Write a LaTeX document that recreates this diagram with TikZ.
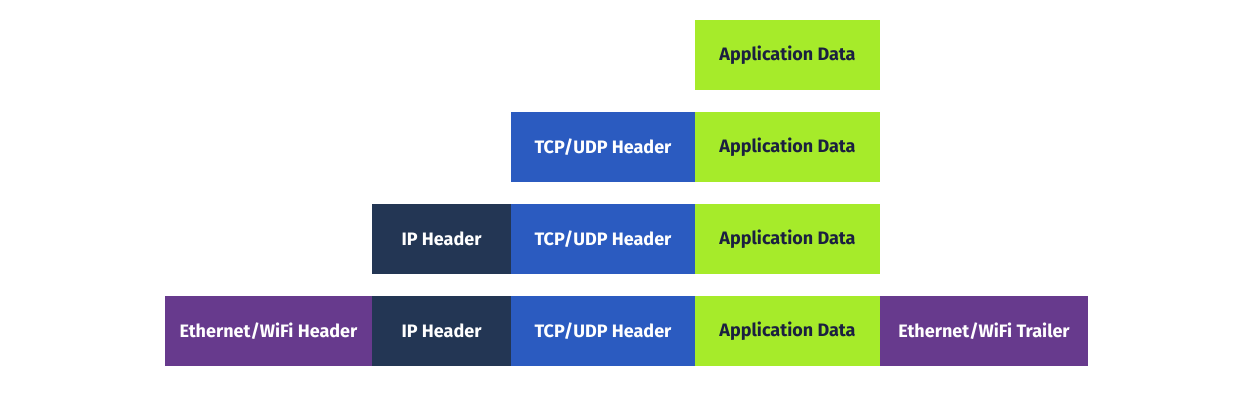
\documentclass[tikz,border=0pt]{standalone}
\usepackage{fontspec}
\setmainfont{Fira Sans}
\usetikzlibrary{positioning}
\definecolor{appgreen}{RGB}{166,235,42}
\definecolor{tcpblue}{RGB}{43,91,192}
\definecolor{ipnavy}{RGB}{35,54,84}
\definecolor{ethpurple}{RGB}{103,58,141}
\definecolor{inkdark}{RGB}{27,32,64}
\begin{document}
\begin{tikzpicture}[x=1pt,y=-1pt,node distance=0pt,
   every node/.style={inner sep=0pt,outer sep=0pt,minimum height=70pt,
     font=\fontsize{18}{21}\selectfont\bfseries},
   app/.style={fill=appgreen,text=inkdark,minimum width=185pt},
   tcp/.style={fill=tcpblue,text=white,minimum width=184pt},
   ip/.style={fill=ipnavy,text=white,minimum width=139pt},
   eth/.style={fill=ethpurple,text=white,minimum width=207pt},
   trl/.style={fill=ethpurple,text=white,minimum width=208pt}]
  \useasboundingbox (0,0) rectangle (1249,396);
  % application layer
  \node[app] (app1) at (787.5,55) {Application Data};
  % transport layer
  \node[app] (app2) [below=22pt of app1] {Application Data};
  \node[tcp] (tcp2) [left=of app2] {TCP/UDP Header};
  % network layer
  \node[app] (app3) [below=22pt of app2] {Application Data};
  \node[tcp] (tcp3) [left=of app3] {TCP/UDP Header};
  \node[ip]  (ip3)  [left=of tcp3] {IP Header};
  % link layer
  \node[app] (app4) [below=22pt of app3] {Application Data};
  \node[tcp] (tcp4) [left=of app4] {TCP/UDP Header};
  \node[ip]  (ip4)  [left=of tcp4] {IP Header};
  \node[eth] (eth4) [left=of ip4] {Ethernet/WiFi Header};
  \node[trl] (trl4) [right=of app4] {Ethernet/WiFi Trailer};
\end{tikzpicture}
\end{document}
